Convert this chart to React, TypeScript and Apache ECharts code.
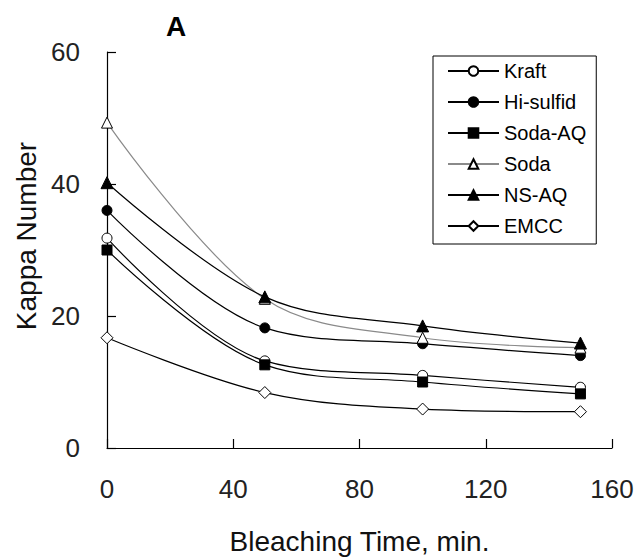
import React, { useEffect, useRef } from "react";
import * as echarts from "echarts";

const times = [0, 50, 100, 150];
const kraft = [31.8, 13.2, 11.0, 9.2];
const hiSulfid = [36.0, 18.2, 15.8, 14.0];
const sodaAQ = [30.0, 12.6, 10.0, 8.2];
const soda = [49.3, 22.6, 16.7, 15.2];
const nsAQ = [40.2, 22.9, 18.5, 15.9];
const emcc = [16.7, 8.4, 5.9, 5.5];

const FONT = "Liberation Sans, Arial, sans-serif";

function pairs(vals: number[]) {
  return times.map((t, i) => [t, vals[i]]);
}

export default function App() {
  const ref = useRef<HTMLDivElement>(null);
  useEffect(() => {
    if (!ref.current) return;
    const chart = echarts.init(ref.current, undefined, { renderer: "svg" });
    const mk = (
      name: string,
      vals: number[],
      symbol: string,
      fill: string,
      lineColor: string,
      size: number
    ) => ({
      name,
      type: "line",
      data: pairs(vals),
      smooth: 0.35,
      symbol,
      symbolSize: size,
      showSymbol: true,
      lineStyle: { color: lineColor, width: 1.2 },
      itemStyle: { color: fill, borderColor: "#000", borderWidth: 1 },
      emphasis: { disabled: true },
    });
    chart.setOption({
      animation: false,
      backgroundColor: "#fff",
      textStyle: { fontFamily: FONT },
      title: {
        text: "A",
        left: 166,
        top: 12,
        padding: 0,
        textStyle: { fontSize: 28, fontWeight: "bold", color: "#000", fontFamily: FONT },
      },
      grid: { left: 107, right: 27, top: 52, bottom: 106 },
      legend: {
        orient: "vertical",
        left: 433,
        top: 56,
        padding: [5, 10, 8, 14],
        itemGap: 11,
        itemWidth: 51,
        itemHeight: 12,
        borderColor: "#000",
        borderWidth: 1,
        selectedMode: false,
        textStyle: { fontSize: 20, lineHeight: 20, color: "#000", fontFamily: FONT },
        data: ["Kraft", "Hi-sulfid", "Soda-AQ", "Soda", "NS-AQ", "EMCC"],
      },
      xAxis: {
        type: "value",
        min: 0,
        max: 160,
        interval: 40,
        name: "Bleaching Time, min.",
        nameLocation: "middle",
        nameGap: 79,
        nameTextStyle: { fontSize: 28, color: "#111", fontFamily: FONT, verticalAlign: "top" },
        axisLine: { show: true, lineStyle: { color: "#000", width: 1.2 } },
        axisTick: { show: true, inside: true, length: 9, lineStyle: { color: "#000", width: 1.2 } },
        axisLabel: { fontSize: 26, color: "#222", margin: 28, fontFamily: FONT },
        splitLine: { show: false },
      },
      yAxis: {
        type: "value",
        min: 0,
        max: 60,
        interval: 20,
        axisLine: { show: true, lineStyle: { color: "#000", width: 1.2 } },
        axisTick: { show: true, inside: true, length: 9, lineStyle: { color: "#000", width: 1.2 } },
        axisLabel: { fontSize: 26, color: "#222", margin: 27, fontFamily: FONT },
        splitLine: { show: false },
      },
      graphic: [
        {
          type: "text",
          x: 26,
          y: 236,
          rotation: Math.PI / 2,
          style: {
            text: "Kappa Number",
            fontSize: 28,
            fill: "#111",
            fontFamily: FONT,
            align: "center",
            verticalAlign: "middle",
          },
        },
      ],
      series: [
        mk("Kraft", kraft, "circle", "#fff", "#000", 10),
        mk("Hi-sulfid", hiSulfid, "circle", "#000", "#000", 10),
        mk("Soda-AQ", sodaAQ, "rect", "#000", "#000", 10),
        mk("Soda", soda, "triangle", "#fff", "#8a8a8a", 11),
        mk("NS-AQ", nsAQ, "triangle", "#000", "#000", 12),
        mk("EMCC", emcc, "diamond", "#fff", "#000", 12),
      ],
    });
    return () => chart.dispose();
  }, []);
  return (
    <div
      ref={ref}
      style={{ position: "absolute", left: 0, top: 0, width: 639, height: 560 }}
    />
  );
}
